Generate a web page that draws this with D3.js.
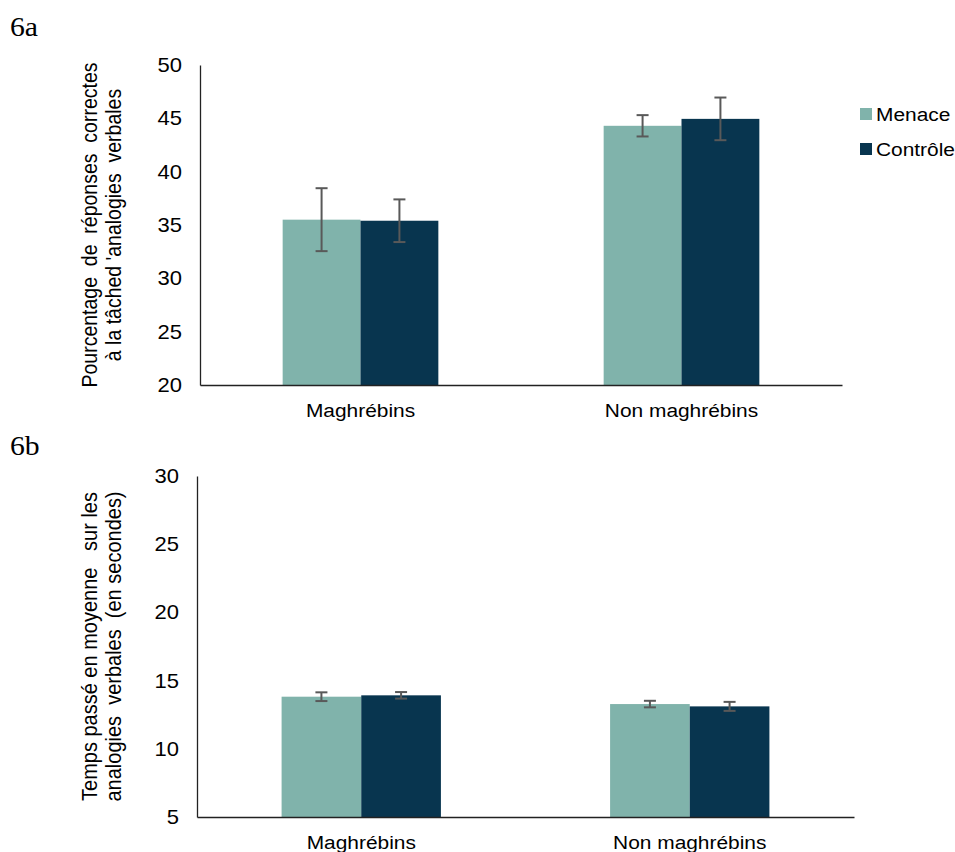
<!DOCTYPE html>
<html>
<head>
<meta charset="utf-8">
<script src="https://cdn.jsdelivr.net/npm/d3@7"></script>
<style>
  html, body { margin: 0; padding: 0; background: #fff; }
  svg { display: block; }
  text { font-family: "Liberation Sans", Arial, sans-serif; fill: #000; }
</style>
</head>
<body>
<svg id="chart" width="955" height="852"></svg>
<script>
// ---- Data ----
const categories = ["Maghrébins", "Non maghrébins"];
const seriesNames = ["Menace", "Contrôle"];
const seriesColors = ["#80B3AB", "#08354F"];

// 6a: percentage of correct answers
const scoreMenace = [35.5, 44.3];
const scoreControle = [35.4, 44.95];
const scoreErrMenace = [2.95, 1.0];
const scoreErrControle = [2.0, 2.0];
const scoreTicks = [20, 25, 30, 35, 40, 45, 50];

// 6b: mean time (seconds)
const timeMenace = [13.82, 13.28];
const timeControle = [13.92, 13.11];
const timeErrMenace = [0.32, 0.24];
const timeErrControle = [0.24, 0.33];
const timeTicks = [5, 10, 15, 20, 25, 30];

const SX = 1.1; // horizontal glyph stretch seen in the reference

const svg = d3.select("#chart");

function stretch(sel) {
  // scale text horizontally about its own x anchor
  sel.each(function () {
    const t = d3.select(this);
    const x = +t.attr("x") || 0;
    t.attr("transform", `translate(${x},0) scale(${SX},1) translate(${-x},0)`);
  });
}

function drawPanel(opts) {
  const { left, right, top, bottom, domain, ticks, values, errors, titleLines, titleX, titleSize, label, labelY, catLabelY } = opts;
  const g = svg.append("g");

  const x0 = d3.scaleBand().domain(categories).range([left, right]).paddingInner(0).paddingOuter(0);
  const groupW = x0.bandwidth() * 0.485;
  const x1 = d3.scaleBand().domain(seriesNames).range([0, groupW]).padding(0);
  const y = d3.scaleLinear().domain(domain).range([bottom, top]);

  // panel label
  g.append("text")
    .attr("x", 10).attr("y", labelY)
    .style("font-family", '"Liberation Serif", "Times New Roman", serif')
    .style("font-size", "27px")
    .text(label)
    .call(stretch);

  // bars
  seriesNames.forEach((s, si) => {
    g.selectAll(null)
      .data(categories.map((c, i) => ({ c, v: values[si][i] })))
      .join("rect")
      .attr("x", d => x0(d.c) + (x0.bandwidth() - groupW) / 2 + x1(s))
      .attr("y", d => y(d.v))
      .attr("width", x1.bandwidth())
      .attr("height", d => bottom - y(d.v))
      .attr("fill", seriesColors[si]);
  });

  // error bars
  seriesNames.forEach((s, si) => {
    const data = categories.map((c, i) => ({ c, v: values[si][i], e: errors[si][i] }));
    const cx = d => x0(d.c) + (x0.bandwidth() - groupW) / 2 + x1(s) + x1.bandwidth() / 2;
    const eg = g.append("g").attr("stroke", "#595959").attr("stroke-width", 2);
    eg.selectAll(null).data(data).join("line")
      .attr("x1", cx).attr("x2", cx)
      .attr("y1", d => y(d.v + d.e)).attr("y2", d => y(d.v - d.e));
    eg.selectAll(null).data(data).join("line")
      .attr("x1", d => cx(d) - 6).attr("x2", d => cx(d) + 6)
      .attr("y1", d => y(d.v + d.e)).attr("y2", d => y(d.v + d.e));
    eg.selectAll(null).data(data).join("line")
      .attr("x1", d => cx(d) - 6).attr("x2", d => cx(d) + 6)
      .attr("y1", d => y(d.v - d.e)).attr("y2", d => y(d.v - d.e));
  });

  // y axis
  const yAxis = d3.axisLeft(y).tickValues(ticks).tickSize(0).tickPadding(18).tickFormat(d3.format("d"));
  const ya = g.append("g").attr("transform", `translate(${left},0)`).call(yAxis);
  ya.select(".domain").attr("stroke", "#222").attr("stroke-width", 1.3);
  ya.selectAll("text").style("font-size", "20px").attr("font-family", null).attr("fill", "#000").call(stretch);

  // x axis
  const xAxis = d3.axisBottom(x0).tickSize(0).tickPadding(0);
  const xa = g.append("g").attr("transform", `translate(0,${bottom})`).call(xAxis);
  xa.select(".domain").attr("stroke", "#222").attr("stroke-width", 1.3);
  xa.selectAll("text").style("font-size", "19px").attr("font-family", null).attr("fill", "#000")
    .attr("dy", null).attr("y", catLabelY - bottom).call(stretch);

  // y title
  const cy = (top + bottom) / 2;
  titleLines.forEach((t, i) => {
    g.append("text")
      .attr("transform", `translate(${titleX[i]},${cy}) rotate(-90) scale(1,${SX})`)
      .attr("text-anchor", "middle")
      .attr("dominant-baseline", "central")
      .style("font-size", titleSize + "px")
      .style("white-space", "pre")
      .text(t);
  });
}

drawPanel({
  left: 200, right: 842, top: 65, bottom: 385,
  domain: [20, 50], ticks: scoreTicks,
  values: [scoreMenace, scoreControle],
  errors: [scoreErrMenace, scoreErrControle],
  titleLines: ["Pourcentage  de  réponses  correctes", "à la tâched 'analogies  verbales"],
  titleX: [89, 113], titleSize: 19.5,
  label: "6a", labelY: 36, catLabelY: 417
});

drawPanel({
  left: 197, right: 854, top: 476, bottom: 817,
  domain: [5, 30], ticks: timeTicks,
  values: [timeMenace, timeControle],
  errors: [timeErrMenace, timeErrControle],
  titleLines: ["Temps passé en moyenne   sur les", "analogies  verbales  (en secondes)"],
  titleX: [89, 113], titleSize: 20,
  label: "6b", labelY: 455, catLabelY: 849
});

// legend
const legend = svg.append("g");
const legendY = [114, 149];
seriesNames.forEach((s, i) => {
  legend.append("rect")
    .attr("x", 860).attr("y", legendY[i] - 6)
    .attr("width", 12).attr("height", 12)
    .attr("fill", seriesColors[i]);
  legend.append("text")
    .attr("x", 876).attr("y", legendY[i])
    .attr("dominant-baseline", "central")
    .style("font-size", "19px")
    .text(s)
    .call(stretch);
});
</script>
</body>
</html>
